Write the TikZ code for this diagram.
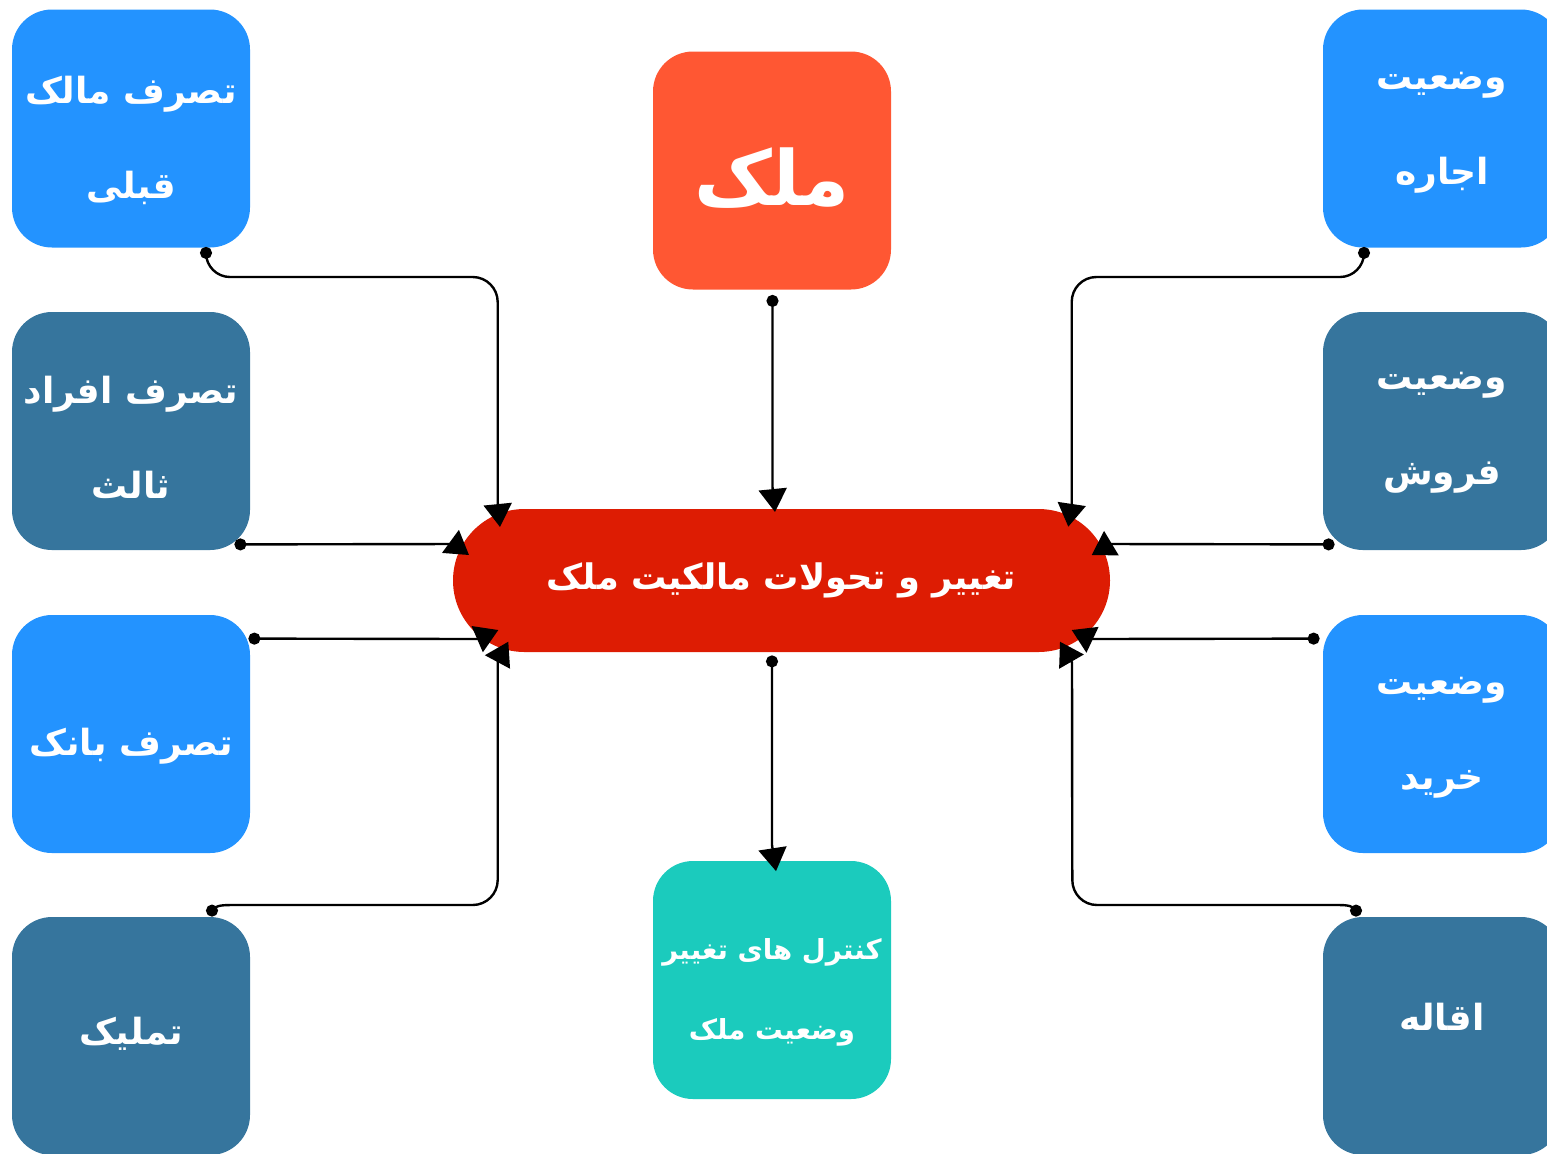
\documentclass[tikz,border=0pt]{standalone}
\usepackage{fontspec}
\usetikzlibrary{arrows.meta,calc}
\newfontfamily\fa[Script=Arabic]{DejaVu Sans}
\TeXXeTstate=1
\definecolor{cblue}{HTML}{2393FF}
\definecolor{csteel}{HTML}{36759D}
\definecolor{corange}{HTML}{FF5733}
\definecolor{cteal}{HTML}{1BCBBD}
\definecolor{cred}{HTML}{DD1C03}
\tikzset{
  box/.style={rectangle, rounded corners=20pt, minimum width=119pt, minimum height=119pt, inner sep=0pt},
  txt/.style={text=white, align=center, inner sep=0pt, font=\fa\bfseries\fontsize{18}{47.5}\selectfont},
  conn/.style={line width=1.2pt, {Circle[length=6pt]}-{Triangle[length=11.5pt,width=14pt]}},
}
\begin{document}
\begin{tikzpicture}[x=0.5pt,y=-0.5pt]
\useasboundingbox (0,0) rectangle (1547,1153);
% left column
\node[box,fill=cblue]  (tl)  at (131,128.5) {};
\node[box,fill=csteel] (ml1) at (131,431)   {};
\node[box,fill=cblue]  (ml2) at (131,734)   {};
\node[box,fill=csteel] (bl)  at (131,1036)  {};
\node[txt] (tl-t)  at ($(tl)+(0,12)$)  {\beginR تصرف مالک\endR\\\beginR قبلی\endR};
\node[txt] (ml1-t) at ($(ml1)+(0,6)$)  {\beginR تصرف افراد\endR\\\beginR ثالث\endR};
\node[txt] (ml2-t) at ($(ml2)+(0,12)$) {\beginR تصرف بانک\endR};
\node[txt] (bl-t)  at ($(bl)+(0,-2)$)  {\beginR تملیک\endR};
% right column
\node[box,fill=cblue]  (tr)  at (1442,128.5) {};
\node[box,fill=csteel] (mr1) at (1442,431)   {};
\node[box,fill=cblue]  (mr2) at (1442,734)   {};
\node[box,fill=csteel] (br)  at (1442,1036)  {};
\node[txt] (tr-t)  at ($(tr)+(0,4)$)   {\beginR وضعیت\endR\\\beginR اجاره\endR};
\node[txt] (mr1-t) at ($(mr1)+(0,2)$)  {\beginR وضعیت\endR\\\beginR فروش\endR};
\node[txt] (mr2-t) at ($(mr2)+(0,4)$)  {\beginR وضعیت\endR\\\beginR خرید\endR};
\node[txt] (br-t)  at ($(br)+(0,-19)$) {\beginR اقاله\endR};
% center
\node[box,fill=corange] (ct) at (772,170.5) {};
\node[txt,font=\fa\bfseries\fontsize{38}{40}\selectfont] (ct-t) at ($(ct)+(0,8)$) {\beginR ملک\endR};
\node[box,fill=cteal] (cb) at (772,980) {};
\node[txt,font=\fa\bfseries\fontsize{13.8}{40}\selectfont] (cb-t) at ($(cb)+(0,12)$)
  {\beginR کنترل های تغییر\endR\\\beginR وضعیت ملک\endR};
\node[rectangle, rounded corners=35.75pt, minimum width=328.5pt, minimum height=71.5pt,
  fill=cred, text=white, font=\fa\bfseries\fontsize{17.6}{22}\selectfont] (pill) at (781.5,580.5)
  {\beginR تغییر و تحولات مالکیت ملک\endR};
% arrow tips
\coordinate (ptl) at ($(pill.center)+(-281.5,-53.5)$);
\coordinate (pml1) at ($(pill.center)+(-312.5,-25.5)$);
\coordinate (pml2) at ($(pill.center)+(-283.2,49.5)$);
\coordinate (pbl) at ($(pill.center)+(-273.2,61.2)$);
\coordinate (ptr) at ($(pill.center)+(286.8,-53.8)$);
\coordinate (pmr1) at ($(pill.center)+(310.2,-25.5)$);
\coordinate (pmr2) at ($(pill.center)+(290.2,49.5)$);
\coordinate (pbr) at ($(pill.center)+(278.5,61.2)$);
\coordinate (pct) at ($(pill.center)+(-6.5,-68.5)$);
\coordinate (pcb) at ($(cb.north)+(4,10.5)$);
% connectors
\draw[conn] ($(tl.south)+(75,-1)$) -- (206,253) .. controls (206,266.2) and (216.8,277) .. (230,277)
  -- (472.7,277) .. controls (486.5,277) and (497.7,288.2) .. (497.7,302) -- (497.7,504) -- (ptl);
\draw[conn] ($(ml1.south east)+(-16,-6)$) -- (454,544) -- (pml1);
\draw[conn] ($(ml2.north east)+(-2,24)$) -- (477.5,639) -- (pml2);
\draw[conn] ($(bl.north)+(81,0)$) -- (212,911) .. controls (214,906) and (220,905) .. (232,905)
  -- (472.7,905) .. controls (486.5,905) and (497.7,893.8) .. (497.7,880) -- (497.7,661.5) -- (pbl);
\draw[conn] ($(tr.south)+(-78,-1)$) -- (1364,253) .. controls (1364,266.2) and (1353.2,277) .. (1340,277)
  -- (1096.4,277) .. controls (1082.6,277) and (1071.7,288.2) .. (1071.7,302) -- (1071.7,504) -- (ptr);
\draw[conn] ($(mr1.south west)+(12,-6)$) -- (1110,544) -- (pmr1);
\draw[conn] ($(mr2.north west)+(-3,24)$) -- (1090.8,639) -- (pmr2);
\draw[conn] ($(br.north)+(-86,0)$) -- (1356,911) .. controls (1354,906) and (1348,905) .. (1338,905)
  -- (1097,905) .. controls (1083.2,905) and (1072.3,893.8) .. (1072.3,880) -- (1072,662.5) -- (pbr);
\draw[conn] ($(ct.south)+(0.5,5)$) -- (772.5,487) -- (pct);
\draw[conn] ($(pill.south)+(-9.5,3)$) -- (772,845) -- (pcb);
\end{tikzpicture}
\end{document}
